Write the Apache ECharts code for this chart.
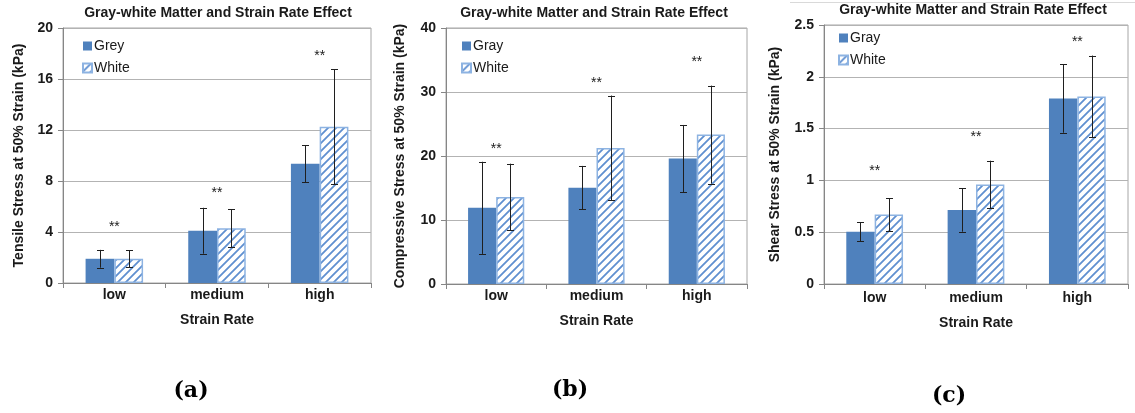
<!DOCTYPE html>
<html>
<head>
<meta charset="utf-8">
<script src="https://cdn.jsdelivr.net/npm/echarts@6/dist/echarts.min.js"></script>
<style>
  html, body { margin: 0; padding: 0; background: #ffffff; }
  #chart { width: 1135px; height: 413px; }
</style>
</head>
<body>
<div id="chart"></div>
<script>
// Strain-rate categories shared by all three panels
const categories = ['low', 'medium', 'high'];

// (a) tensile stress at 50% strain, kPa
const tensileGrey = [1.9, 4.1, 9.35];
const tensileGreyErr = [0.7, 1.8, 1.45];
const tensileWhite = [1.9, 4.3, 12.25];
const tensileWhiteErr = [0.65, 1.5, 4.5];
const tensileStars = [4.6, 7.3, 18.0];

// (b) compressive stress at 50% strain, kPa
const compGray = [11.9, 15.05, 19.6];
const compGrayErr = [7.2, 3.4, 5.25];
const compWhite = [13.6, 21.25, 23.35];
const compWhiteErr = [5.2, 8.2, 7.65];
const compStars = [21.6, 31.8, 35.2];

// (c) shear stress at 50% strain, kPa
const shearGray = [0.505, 0.715, 1.79];
const shearGrayErr = [0.09, 0.21, 0.33];
const shearWhite = [0.67, 0.96, 1.81];
const shearWhiteErr = [0.16, 0.23, 0.395];
const shearStars = [1.12, 1.45, 2.36];

// Panel captions
const panelTitle = 'Gray-white Matter and Strain Rate Effect';
const yNames = ['Tensile Stress at 50% Strain (kPa)', 'Compressive Stress at 50% Strain (kPa)', 'Shear Stress at 50% Strain (kPa)'];
const greyNames = ['Grey', 'Gray', 'Gray'];
const subLabels = ['(a)', '(b)', '(c)'];

const BLUE = '#4f81bd';
const HATCH_BORDER = '#8db3e2';
const FONT = '"Liberation Sans", Arial, sans-serif';
const BAR_FRAC = 0.28;

// diagonal hatch tile for the white-matter bars
function hatchCanvas() {
  const s = 8;
  const c = document.createElement('canvas');
  c.width = s; c.height = s;
  const g = c.getContext('2d');
  g.fillStyle = '#ffffff';
  g.fillRect(0, 0, s, s);
  g.strokeStyle = '#5f8fd0';
  g.lineWidth = 1.8;
  g.beginPath();
  g.moveTo(-1, s + 1); g.lineTo(s + 1, -1);
  g.moveTo(-1, 1); g.lineTo(1, -1);
  g.moveTo(s - 1, s + 1); g.lineTo(s + 1, s - 1);
  g.stroke();
  return c;
}
const hatch = { image: hatchCanvas(), repeat: 'repeat' };

function errData(mean, err) {
  return mean.map((m, i) => [i, m - err[i], m + err[i]]);
}

function errRender(sign) {
  return function (params, api) {
    const i = api.value(0);
    const pLo = api.coord([i, api.value(1)]);
    const pHi = api.coord([i, api.value(2)]);
    const band = api.size([1, 0])[0];
    const x = Math.round(pLo[0] + sign * band * BAR_FRAC / 2) + 0.5;
    const cap = 3.5;
    const st = { stroke: '#1f1f1f', lineWidth: 1 };
    return {
      type: 'group',
      children: [
        { type: 'line', shape: { x1: x, y1: pLo[1], x2: x, y2: pHi[1] }, style: st },
        { type: 'line', shape: { x1: x - cap, y1: Math.round(pHi[1]) + 0.5, x2: x + cap, y2: Math.round(pHi[1]) + 0.5 }, style: st },
        { type: 'line', shape: { x1: x - cap, y1: Math.round(pLo[1]) + 0.5, x2: x + cap, y2: Math.round(pLo[1]) + 0.5 }, style: st }
      ]
    };
  };
}

function starRender(params, api) {
  const p = api.coord([api.value(0), api.value(1)]);
  return {
    type: 'text',
    style: { text: '**', x: p[0], y: p[1] + 3, align: 'center', verticalAlign: 'middle', font: '14px ' + FONT, fill: '#1a1a1a' }
  };
}

const panels = [
  { grid: { left: 63, top: 28, width: 308, height: 255 }, max: 20, interval: 4, grey: tensileGrey, greyErr: tensileGreyErr, white: tensileWhite, whiteErr: tensileWhiteErr, stars: tensileStars,
    titleX: 218, titleTop: 6, yGap: 37, lblMargin: 5, xGap: 30, legend: { left: 82, top: 39 }, sub: { x: 191, y: 391 } },
  { grid: { left: 446, top: 28, width: 301, height: 256 }, max: 40, interval: 10, grey: compGray, greyErr: compGrayErr, white: compWhite, whiteErr: compWhiteErr, stars: compStars,
    titleX: 594, titleTop: 6, yGap: 39, lblMargin: 5, xGap: 30, legend: { left: 461, top: 39 }, sub: { x: 570, y: 390 } },
  { grid: { left: 824, top: 25, width: 304, height: 259 }, max: 2.5, interval: 0.5, grey: shearGray, greyErr: shearGrayErr, white: shearWhite, whiteErr: shearWhiteErr, stars: shearStars,
    titleX: 973, titleTop: 3, yGap: 42, lblMargin: 7, xGap: 32, legend: { left: 838, top: 31 }, sub: { x: 949, y: 396 } }
];

const option = {
  animation: false,
  backgroundColor: '#ffffff',
  title: [], grid: [], xAxis: [], yAxis: [], legend: [], series: [],
  graphic: [
    { type: 'line', shape: { x1: 790, y1: 2.5, x2: 1135, y2: 2.5 }, style: { stroke: '#d9d9d9', lineWidth: 1 }, silent: true }
  ]
};

panels.forEach((p, k) => {
  option.title.push({
    text: panelTitle, left: p.titleX, top: p.titleTop, textAlign: 'center', padding: 0,
    textStyle: { fontFamily: FONT, fontWeight: 'bold', fontSize: 14, color: '#1a1a1a' }
  });
  option.grid.push(Object.assign({ show: true, borderColor: '#a6a6a6', borderWidth: 1, backgroundColor: 'transparent' }, p.grid));
  option.xAxis.push({
    type: 'category', gridIndex: k, data: categories,
    name: 'Strain Rate', nameLocation: 'middle', nameGap: p.xGap,
    nameTextStyle: { fontFamily: FONT, fontWeight: 'bold', fontSize: 14, color: '#1a1a1a' },
    axisLine: { show: true, lineStyle: { color: '#868686', width: 1 } },
    axisTick: { show: true, length: 5, alignWithLabel: false, lineStyle: { color: '#868686' } },
    axisLabel: { margin: p.lblMargin, fontFamily: FONT, fontWeight: 'bold', fontSize: 14, color: '#1a1a1a' },
    splitLine: { show: false }
  });
  option.yAxis.push({
    type: 'value', gridIndex: k, min: 0, max: p.max, interval: p.interval,
    name: yNames[k], nameLocation: 'middle', nameGap: p.yGap,
    nameTextStyle: { fontFamily: FONT, fontWeight: 'bold', fontSize: 14, color: '#1a1a1a' },
    axisLine: { show: true, lineStyle: { color: '#868686', width: 1 } },
    axisTick: { show: true, length: 5, lineStyle: { color: '#868686' } },
    axisLabel: { margin: 10, fontFamily: FONT, fontWeight: 'bold', fontSize: 14, color: '#1a1a1a' },
    splitLine: { show: true, lineStyle: { color: '#b3b3b3', width: 1 } }
  });
  option.legend.push({
    orient: 'vertical', left: p.legend.left, top: p.legend.top, padding: 0,
    itemWidth: 9, itemHeight: 9, itemGap: 8, icon: 'rect',
    data: [greyNames[k], 'White'],
    textStyle: { fontFamily: FONT, fontSize: 14, color: '#1a1a1a', padding: [0, 0, 0, -3] }
  });
  option.series.push(
    { name: greyNames[k], type: 'bar', xAxisIndex: k, yAxisIndex: k, data: p.grey, barWidth: (BAR_FRAC * 100) + '%', barGap: '0%',
      itemStyle: { color: BLUE, borderColor: '#4a7ab3', borderWidth: 0 } },
    { name: 'White', type: 'bar', xAxisIndex: k, yAxisIndex: k, data: p.white, barWidth: (BAR_FRAC * 100) + '%', barGap: '0%',
      itemStyle: { color: hatch, borderColor: HATCH_BORDER, borderWidth: 1.5 } },
    { type: 'custom', xAxisIndex: k, yAxisIndex: k, data: errData(p.grey, p.greyErr), encode: { x: 0, y: [1, 2] }, renderItem: errRender(-1), z: 5, silent: true },
    { type: 'custom', xAxisIndex: k, yAxisIndex: k, data: errData(p.white, p.whiteErr), encode: { x: 0, y: [1, 2] }, renderItem: errRender(1), z: 5, silent: true },
    { type: 'custom', xAxisIndex: k, yAxisIndex: k, data: p.stars.map((v, i) => [i, v]), encode: { x: 0, y: 1 }, renderItem: starRender, z: 6, silent: true }
  );
  option.graphic.push({
    type: 'text', x: p.sub.x, y: p.sub.y,
    style: { text: subLabels[k], font: 'bold 22px "DejaVu Serif", serif', fill: '#000000', align: 'center', verticalAlign: 'middle' }
  });
});

const chart = echarts.init(document.getElementById('chart'), null, { renderer: 'canvas' });
chart.setOption(option);
</script>
</body>
</html>
